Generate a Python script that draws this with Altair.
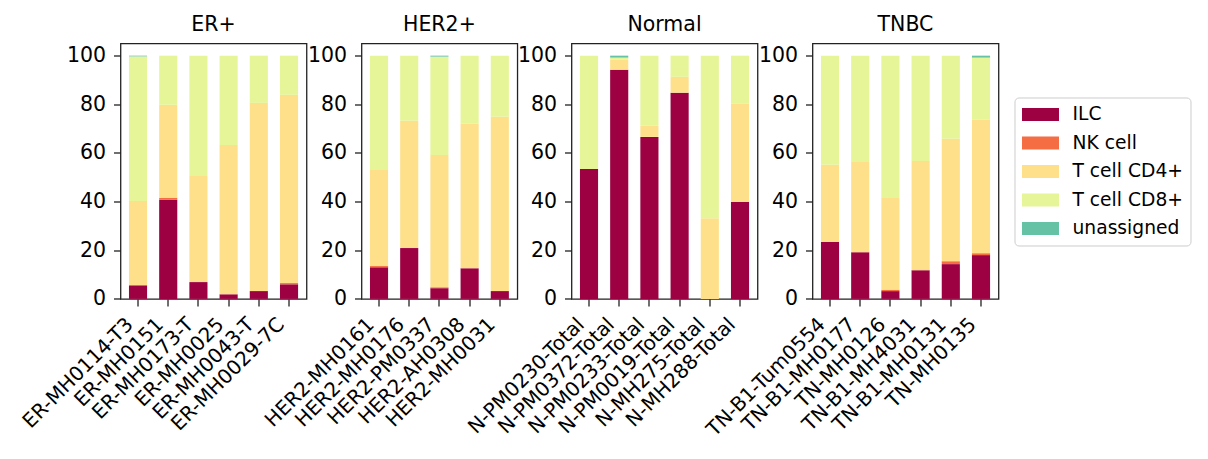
import altair as alt
import pandas as pd

cell_types = ["ILC", "NK cell", "T cell CD4+", "T cell CD8+", "unassigned"]
colors = ["#9e0142", "#f46d43", "#fee08b", "#e6f598", "#66c2a5"]

groups = ["ER+", "HER2+", "Normal", "TNBC"]

er_samples = ["ER-MH0114-T3", "ER-MH0151", "ER-MH0173-T", "ER-MH0025", "ER-MH0043-T", "ER-MH0029-7C"]
er_ilc = [5.6, 40.7, 6.9, 1.9, 3.2, 6.0]
er_nk = [0.0, 0.8, 0.0, 0.0, 0.0, 0.5]
er_cd4 = [34.6, 38.3, 43.6, 61.4, 77.4, 77.4]
er_cd8 = [59.5, 20.2, 49.5, 36.7, 19.4, 16.1]
er_un = [0.3, 0.0, 0.0, 0.0, 0.0, 0.0]

her2_samples = ["HER2-MH0161", "HER2-MH0176", "HER2-PM0337", "HER2-AH0308", "HER2-MH0031"]
her2_ilc = [13.0, 20.9, 4.4, 12.6, 3.2]
her2_nk = [0.5, 0.0, 0.4, 0.0, 0.0]
her2_cd4 = [39.5, 52.3, 54.4, 59.4, 71.7]
her2_cd8 = [47.0, 26.8, 40.4, 28.0, 25.1]
her2_un = [0.0, 0.0, 0.4, 0.0, 0.0]

n_samples = ["N-PM0230-Total", "N-PM0372-Total", "N-PM0233-Total", "N-PM0019-Total", "N-MH275-Total", "N-MH288-Total"]
n_ilc = [53.4, 94.2, 66.6, 84.8, 0.0, 39.8]
n_nk = [0.0, 0.0, 0.0, 0.0, 0.0, 0.0]
n_cd4 = [0.0, 4.1, 4.6, 6.5, 33.2, 40.4]
n_cd8 = [46.6, 0.9, 28.8, 8.7, 66.8, 19.8]
n_un = [0.0, 0.8, 0.0, 0.0, 0.0, 0.0]

tn_samples = ["TN-B1-Tum0554", "TN-B1-MH0177", "TN-MH0126", "TN-B1-MH4031", "TN-B1-MH0131", "TN-MH0135"]
tn_ilc = [23.4, 19.2, 3.2, 11.8, 14.3, 18.0]
tn_nk = [0.0, 0.0, 0.5, 0.0, 1.2, 0.8]
tn_cd4 = [31.7, 37.1, 37.8, 44.9, 50.3, 54.8]
tn_cd8 = [44.9, 43.7, 58.5, 43.3, 34.2, 25.6]
tn_un = [0.0, 0.0, 0.0, 0.0, 0.0, 0.8]

y_ticks = [0, 20, 40, 60, 80, 100]

group_data = {
    "ER+": (er_samples, [er_ilc, er_nk, er_cd4, er_cd8, er_un]),
    "HER2+": (her2_samples, [her2_ilc, her2_nk, her2_cd4, her2_cd8, her2_un]),
    "Normal": (n_samples, [n_ilc, n_nk, n_cd4, n_cd8, n_un]),
    "TNBC": (tn_samples, [tn_ilc, tn_nk, tn_cd4, tn_cd8, tn_un]),
}

FONT = "DejaVu Sans"
STEP = 30.2
FS = 20.5

color_scale = alt.Scale(domain=cell_types, range=colors)

panels = []
for g in groups:
    samples, series = group_data[g]
    rows = []
    for ci, (ct, vals) in enumerate(zip(cell_types, series)):
        for s, v in zip(samples, vals):
            rows.append({"sample": s, "cell_type": ct, "idx": ci, "value": v})
    df = pd.DataFrame(rows)
    n = len(samples)
    w = STEP * (n - 0.4 + 0.56)
    ch = alt.Chart(df).mark_bar().encode(
        x=alt.X("sample:N", sort=samples,
                scale=alt.Scale(paddingInner=0.4, paddingOuter=0.28),
                axis=alt.Axis(title=None, labelAngle=-45, labelAlign="right",
                              labelBaseline="top", labelPadding=8, labelOffset=-15,
                              labelFontSize=20,
                              tickSize=7, tickWidth=1.3, tickColor="#222", domain=False,
                              labelColor="black", labelFont=FONT, labelLimit=400)),
        y=alt.Y("value:Q", stack="zero",
                scale=alt.Scale(domain=[0, 105], nice=False, zero=True),
                axis=alt.Axis(title=None, values=y_ticks, labelFontSize=FS,
                              tickSize=7, tickWidth=1.3, tickColor="#222", domain=False,
                              grid=False, labelPadding=8, labelColor="black", labelFont=FONT)),
        color=alt.Color("cell_type:N", scale=color_scale,
                        legend=alt.Legend(title=None, orient="none", legendX=894, legendY=54,
                                          labelFontSize=18.7, labelFont=FONT, labelColor="black",
                                          symbolType="M-1.85,-0.65L1.85,-0.65L1.85,0.65L-1.85,0.65Z",
                                          symbolSize=400, symbolStrokeWidth=0,
                                          symbolOffset=9, labelOffset=22,
                                          rowPadding=8.5, padding=7,
                                          strokeColor="#cccccc", fillColor="white",
                                          cornerRadius=4)),
        order=alt.Order("idx:Q", sort="ascending"),
    ).properties(
        width=w, height=255.4,
        title=alt.TitleParams(g, fontSize=FS, fontWeight="normal", font=FONT,
                              color="black", offset=8),
    )
    panels.append(ch)

chart = alt.hconcat(*panels, spacing=54, bounds="flush").properties(
    padding={"left": 9.5, "top": 5.5, "right": 5, "bottom": 5}
).configure(
    font=FONT
).configure_view(
    stroke="#222", strokeWidth=1.3
)

chart.save("out.html", embed_options={"renderer": "svg", "actions": False})
